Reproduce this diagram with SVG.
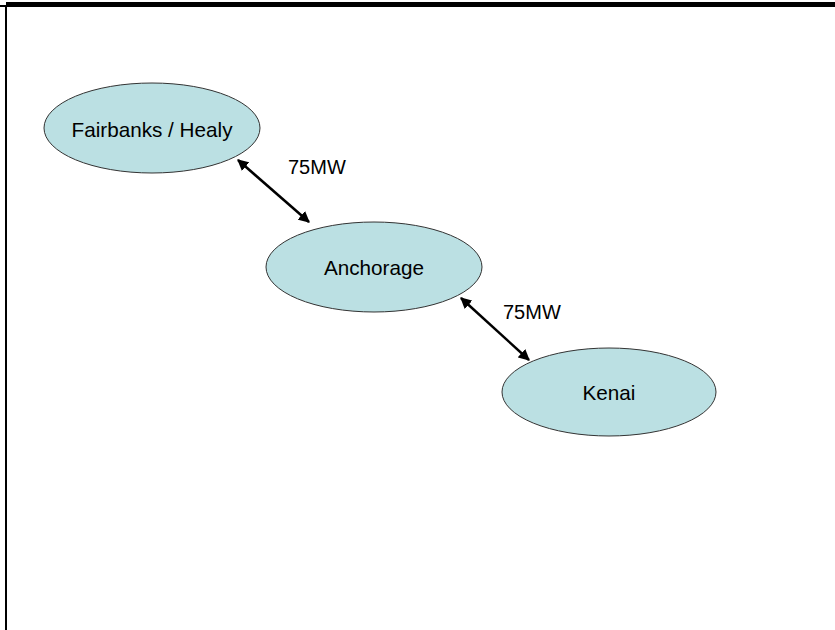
<svg xmlns="http://www.w3.org/2000/svg" width="835" height="630" viewBox="0 0 835 630">
  <style>
    .node ellipse { fill: #bbe0e3; stroke: #333333; stroke-width: 1; }
    text { font-family: "Liberation Sans", Arial, sans-serif; font-size: 20px; fill: #000000; }
    .node text { text-anchor: middle; font-size: 20.7px; }
    .link { stroke: #000000; stroke-width: 2.5; fill: none; marker-start: url(#head); marker-end: url(#head); }
  </style>
  <defs>
    <marker id="head" viewBox="0 0 10 10" refX="9" refY="5" markerWidth="4.5" markerHeight="4.5" orient="auto-start-reverse" markerUnits="strokeWidth">
      <path d="M0,0 L10,5 L0,10 Z" fill="#000000"/>
    </marker>
  </defs>

  <rect width="835" height="630" fill="#ffffff"/>

  <!-- frame -->
  <rect x="6" y="2" width="829" height="5" fill="#000000"/>
  <rect x="0" y="5" width="7" height="2" fill="#000000"/>
  <rect x="5" y="5" width="2" height="625" fill="#000000"/>

  <g id="connectors">
    <line class="link" x1="238" y1="160" x2="309" y2="222"/>
    <line class="link" x1="461" y1="298" x2="529" y2="360"/>
    <text x="288" y="174">75MW</text>
    <text x="503" y="319">75MW</text>
  </g>

  <g id="fairbanks" class="node">
    <ellipse cx="152" cy="128" rx="108" ry="45"/>
    <text x="152" y="137">Fairbanks / Healy</text>
  </g>

  <g id="anchorage" class="node">
    <ellipse cx="374" cy="267" rx="108" ry="45"/>
    <text x="374" y="275">Anchorage</text>
  </g>

  <g id="kenai" class="node">
    <ellipse cx="609" cy="392" rx="107" ry="44"/>
    <text x="609" y="400">Kenai</text>
  </g>
</svg>
